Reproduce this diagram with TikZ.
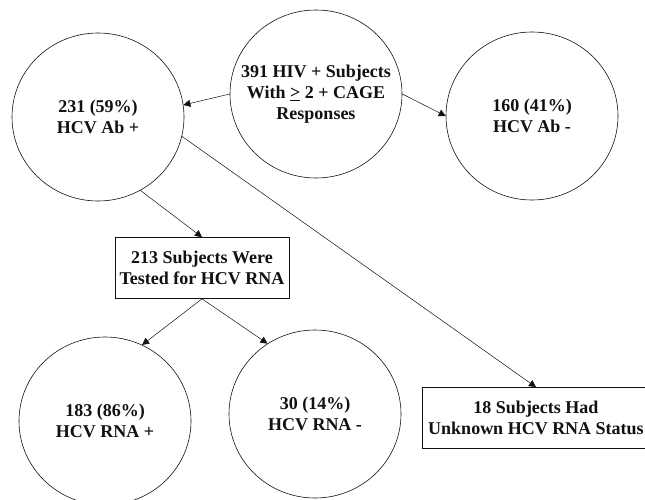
\documentclass[tikz,border=0pt]{standalone}
\usepackage{fontspec}
\setmainfont{Liberation Serif}
\usepackage{tikz}
\usetikzlibrary{arrows.meta,shapes.geometric}
\definecolor{ink}{HTML}{111111}
\tikzset{
  bub/.style={ellipse, draw=ink, line width=0.6pt, minimum width=172pt, minimum height=168pt, inner xsep=-20pt, inner ysep=0pt, align=center, text=ink, font=\fontsize{18}{21}\selectfont\bfseries},
  rbox/.style={rectangle, draw=ink, line width=0.7pt, minimum height=61pt, inner sep=2pt, align=center, text=ink, font=\fontsize{18}{21}\selectfont\bfseries},
  arr/.style={-{Triangle[length=7pt,width=7pt]}, line width=0.5pt, draw=ink}
}

\begin{document}
\begin{tikzpicture}[x=1pt,y=-1pt]
  \fill[white] (0,0) rectangle (645,500);
  \useasboundingbox (0,0) rectangle (645,500);

  % circles
  \node[bub] (all) at (316,94) {391 HIV + Subjects\\With \underline{>} 2 + CAGE\\Responses};
  \node[bub] (abpos) at (98,117) {231 (59\%)\\HCV Ab +};
  \node[bub] (abneg) at (532,116) {160 (41\%)\\HCV Ab -};
  \node[bub] (rnapos) at (105,421) {183 (86\%)\\HCV RNA +};
  \node[bub] (rnaneg) at (315,414) {30 (14\%)\\HCV RNA -};

  % boxes
  \node[rbox, minimum width=174pt] (tested) at (202,268) {213 Subjects Were\\Tested for HCV RNA};
  \node[rbox, minimum width=228pt] (unknown) at (536,418) {18 Subjects Had\\Unknown HCV RNA Status};

  \draw[arr] (all.west) -- (abpos.8);
  \draw[arr] (all.east) -- (abneg.west);
  \draw[arr] (abpos.-60) -- (tested.north);
  \draw[arr] (abpos.-13) -- (unknown.north);
  \draw[arr] (tested.south) -- (rnapos.64);
  \draw[arr] (tested.south) -- (rnaneg.124);
\end{tikzpicture}
\end{document}
